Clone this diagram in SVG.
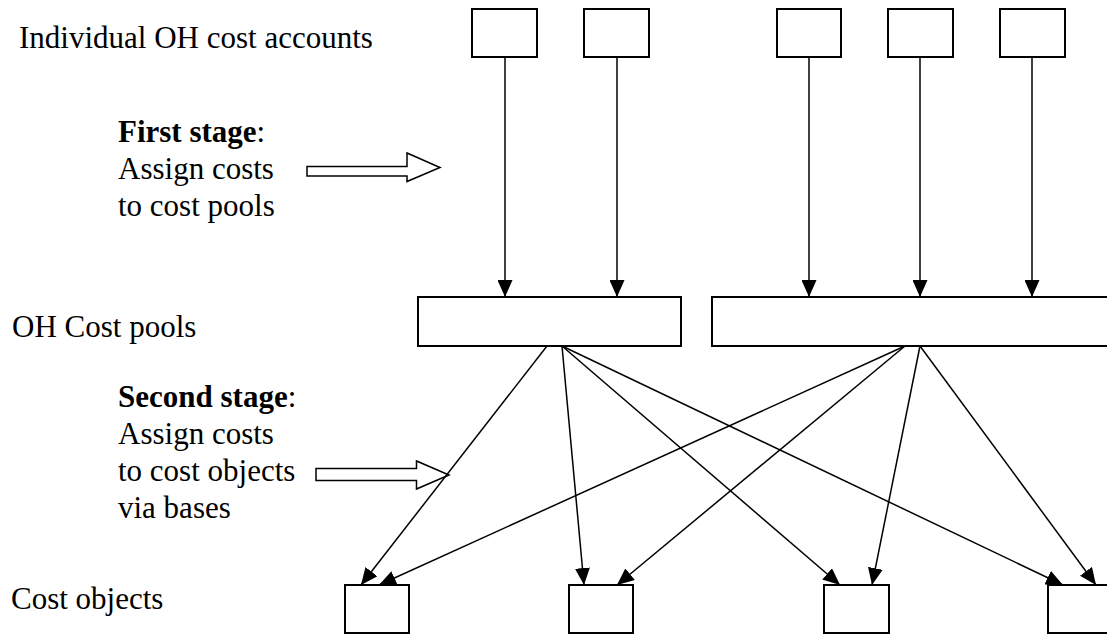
<svg xmlns="http://www.w3.org/2000/svg" width="1107" height="635" viewBox="0 0 1107 635">
<style>
.box{fill:#fff;stroke:#000;stroke-width:2}
.con{fill:none;stroke:#000;stroke-width:1.5}
.lbl{font-family:"Liberation Serif","Times New Roman",serif;font-size:31px;fill:#000}
.b{font-weight:bold}
.hollow{fill:#fff;stroke:#000;stroke-width:1.5;stroke-linejoin:miter}
</style>
<defs>
<marker id="ah" markerUnits="userSpaceOnUse" markerWidth="17" markerHeight="15" refX="17" refY="7.5" orient="auto">
<path d="M0,0 L17,7.5 L0,15 z" fill="#000"/>
</marker>
</defs>
<rect width="1107" height="635" fill="#fff"/>
<g id="labels">
<text class="lbl" x="19" y="48">Individual OH cost accounts</text>
<text class="lbl" x="12" y="337">OH Cost pools</text>
<text class="lbl" x="11" y="609">Cost objects</text>
<text class="lbl" x="118" y="142"><tspan class="b">First stage</tspan>:</text>
<text class="lbl" x="118" y="179">Assign costs</text>
<text class="lbl" x="118" y="216">to cost pools</text>
<text class="lbl" x="118" y="407"><tspan class="b">Second stage</tspan>:</text>
<text class="lbl" x="118" y="444">Assign costs</text>
<text class="lbl" x="118" y="481">to cost objects</text>
<text class="lbl" x="118" y="518">via bases</text>
</g>
<g id="stage-arrows">
<polygon class="hollow" points="307,166.5 407,166.5 407,153 440,167.5 407,181.5 407,176 307,176"/>
<polygon class="hollow" points="316,468.5 416.5,468.5 416.5,461 449,475 416.5,489 416.5,480.5 316,480.5"/>
</g>
<g id="connectors">
<line class="con" x1="505" y1="57" x2="505" y2="297" marker-end="url(#ah)"/>
<line class="con" x1="617" y1="57" x2="617" y2="297" marker-end="url(#ah)"/>
<line class="con" x1="809" y1="57" x2="809" y2="297" marker-end="url(#ah)"/>
<line class="con" x1="920" y1="57" x2="920" y2="297" marker-end="url(#ah)"/>
<line class="con" x1="1032" y1="57" x2="1032" y2="297" marker-end="url(#ah)"/>
<line class="con" x1="547" y1="346" x2="361" y2="585" marker-end="url(#ah)"/>
<line class="con" x1="562" y1="346" x2="584" y2="585" marker-end="url(#ah)"/>
<line class="con" x1="562" y1="346" x2="840" y2="585" marker-end="url(#ah)"/>
<line class="con" x1="562" y1="346" x2="1063" y2="585" marker-end="url(#ah)"/>
<line class="con" x1="905" y1="346" x2="379" y2="585" marker-end="url(#ah)"/>
<line class="con" x1="905" y1="346" x2="617" y2="585" marker-end="url(#ah)"/>
<line class="con" x1="920" y1="346" x2="872" y2="585" marker-end="url(#ah)"/>
<line class="con" x1="920" y1="346" x2="1096" y2="585" marker-end="url(#ah)"/>
</g>
<g id="acct1"><rect class="box" x="472" y="9" width="65" height="48"/></g>
<g id="acct2"><rect class="box" x="584" y="9" width="65" height="48"/></g>
<g id="acct3"><rect class="box" x="777" y="9" width="64" height="48"/></g>
<g id="acct4"><rect class="box" x="888" y="9" width="65" height="48"/></g>
<g id="acct5"><rect class="box" x="1000" y="9" width="65" height="48"/></g>
<g id="pool1"><rect class="box" x="418" y="297" width="263" height="49"/></g>
<g id="pool2"><rect class="box" x="712" y="297" width="410" height="49"/></g>
<g id="obj1"><rect class="box" x="345" y="585" width="64" height="48"/></g>
<g id="obj2"><rect class="box" x="569" y="585" width="64" height="48"/></g>
<g id="obj3"><rect class="box" x="824" y="585" width="65" height="48"/></g>
<g id="obj4"><rect class="box" x="1048" y="585" width="65" height="48"/></g>
</svg>
